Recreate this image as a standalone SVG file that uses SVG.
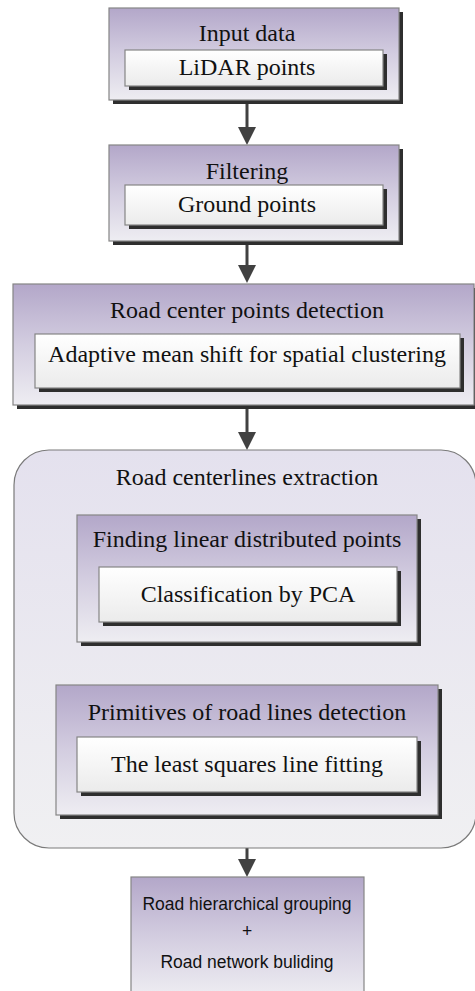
<svg xmlns="http://www.w3.org/2000/svg" width="475" height="991" viewBox="0 0 475 991">
  <style>
    .t { font-family: "Liberation Serif", "Times New Roman", serif; font-size: 24px; fill: #111; text-anchor: middle; }
    .s { font-family: "Liberation Sans", Arial, sans-serif; font-size: 17.5px; fill: #111; text-anchor: middle; }
    .outer { fill: url(#gPurple); stroke: #858585; stroke-width: 1.2; }
    .inner { fill: url(#gWhite); stroke: #858585; stroke-width: 1.2; }
    .shadow { fill: #2e2e2e; }
    .cont { fill: url(#gCont); stroke: #7a7a7a; stroke-width: 1.2; }
    .conn { stroke: #414141; stroke-width: 3; fill: none; }
  </style>
  <defs>
    <linearGradient id="gPurple" x1="0" y1="0" x2="0" y2="1">
      <stop offset="0" stop-color="#b3a7c9"/>
      <stop offset="0.5" stop-color="#d3cde0"/>
      <stop offset="1" stop-color="#eeedf2"/>
    </linearGradient>
    <linearGradient id="gWhite" x1="0" y1="0" x2="0" y2="1">
      <stop offset="0" stop-color="#ffffff"/>
      <stop offset="1" stop-color="#ebebeb"/>
    </linearGradient>
    <linearGradient id="gCont" x1="0" y1="0" x2="0" y2="1">
      <stop offset="0" stop-color="#e4e1ee"/>
      <stop offset="1" stop-color="#f0f0f2"/>
    </linearGradient>
    <marker id="arr" markerUnits="userSpaceOnUse" markerWidth="18" markerHeight="18" refX="8" refY="9" orient="auto">
      <path d="M0,0 L18,9 L0,18 Z" fill="#414141"/>
    </marker>
  </defs>

  <g id="connectors">
    <line class="conn" x1="247" y1="101" x2="247" y2="135" marker-end="url(#arr)"/>
    <line class="conn" x1="247" y1="242" x2="247" y2="273" marker-end="url(#arr)"/>
    <line class="conn" x1="247" y1="409" x2="247" y2="440" marker-end="url(#arr)"/>
    <line class="conn" x1="247" y1="646" x2="247" y2="675" marker-end="url(#arr)"/>
    <line class="conn" x1="247" y1="848" x2="247" y2="867" marker-end="url(#arr)"/>
  </g>

  <g id="input-data">
    <rect class="shadow" x="113" y="12" width="290" height="92"/>
    <rect class="outer" x="109" y="8" width="290" height="92"/>
    <text class="t" x="247" y="41">Input data</text>
    <g id="lidar-points">
      <rect class="shadow" x="129" y="54" width="258" height="36"/>
      <rect class="inner" x="125" y="50" width="258" height="36"/>
      <text class="t" x="247" y="75">LiDAR points</text>
    </g>
  </g>

  <g id="filtering">
    <rect class="shadow" x="113" y="149" width="290" height="96"/>
    <rect class="outer" x="109" y="145" width="290" height="96"/>
    <text class="t" x="247" y="179">Filtering</text>
    <g id="ground-points">
      <rect class="shadow" x="129" y="189" width="258" height="40"/>
      <rect class="inner" x="125" y="185" width="258" height="40"/>
      <text class="t" x="247" y="212">Ground points</text>
    </g>
  </g>

  <g id="road-center-points">
    <rect class="shadow" x="17" y="288" width="461" height="121"/>
    <rect class="outer" x="13" y="284" width="461" height="121"/>
    <text class="t" x="247" y="318">Road center points detection</text>
    <g id="adaptive-mean-shift">
      <rect class="shadow" x="39" y="338" width="425" height="54"/>
      <rect class="inner" x="35" y="334" width="425" height="54"/>
      <text class="t" x="247" y="362">Adaptive mean shift for spatial clustering</text>
    </g>
  </g>

  <g id="road-centerlines-extraction">
    <rect class="cont" x="14" y="450" width="462" height="398" rx="35" ry="35"/>
    <text class="t" x="247" y="485">Road centerlines extraction</text>
    <g id="finding-linear">
      <rect class="shadow" x="81" y="519" width="340" height="127"/>
      <rect class="outer" x="77" y="515" width="340" height="127"/>
      <text class="t" x="247" y="547">Finding linear distributed points</text>
      <g id="classification-pca">
        <rect class="shadow" x="103" y="571" width="298" height="55"/>
        <rect class="inner" x="99" y="567" width="298" height="55"/>
        <text class="t" x="248" y="602">Classification by PCA</text>
      </g>
    </g>
    <g id="primitives">
      <rect class="shadow" x="60" y="689" width="382" height="130"/>
      <rect class="outer" x="56" y="685" width="382" height="130"/>
      <text class="t" x="247" y="720">Primitives of road lines detection</text>
      <g id="least-squares">
        <rect class="shadow" x="81" y="741" width="340" height="55"/>
        <rect class="inner" x="77" y="737" width="340" height="55"/>
        <text class="t" x="247" y="772">The least squares line fitting</text>
      </g>
    </g>
  </g>

  <g id="road-hierarchical-grouping">
    <rect class="outer" x="131" y="877" width="233" height="120"/>
    <text class="s" x="247" y="910">Road hierarchical grouping</text>
    <text class="s" x="247" y="937">+</text>
    <text class="s" x="247" y="968">Road network buliding</text>
  </g>
</svg>
